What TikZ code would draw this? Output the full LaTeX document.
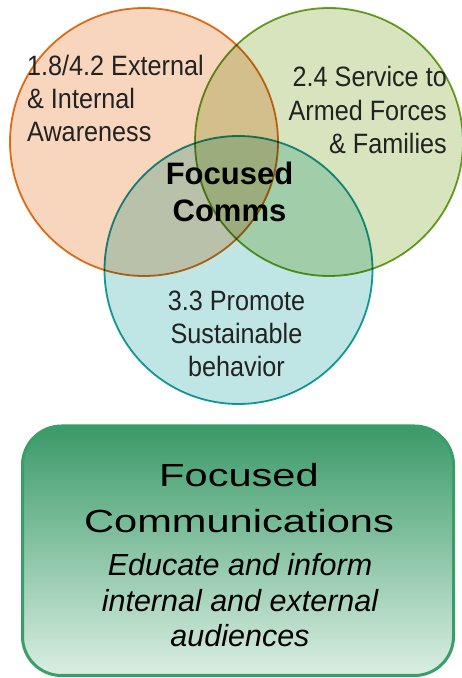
\documentclass[tikz,border=0pt]{standalone}
\usepackage{fontspec}
\setmainfont{Liberation Sans}
\newfontfamily\narrowfont[FakeStretch=0.9]{Liberation Sans}
\newfontfamily\widefont[FakeStretch=1.3]{Liberation Sans}
\definecolor{orfill}{HTML}{F8D6BE}
\definecolor{orline}{HTML}{E2761C}
\definecolor{grfill}{HTML}{D8E4BD}
\definecolor{grline}{HTML}{6CA325}
\definecolor{tefill}{HTML}{BFE6E5}
\definecolor{teline}{HTML}{189EA0}
\definecolor{boxline}{HTML}{3A9E68}
\definecolor{boxtop}{HTML}{3A9A68}
\definecolor{boxmid}{HTML}{9ACBAF}
\definecolor{boxbot}{HTML}{DAEEE2}
\definecolor{txtgray}{HTML}{222222}
\tikzset{
  venn/.style={circle, minimum size=268pt, inner sep=0pt, line width=1.8pt, blend mode=multiply},
  circtext/.style={inner sep=0pt, text=txtgray, font=\narrowfont\fontsize{28}{33.2}\selectfont},
}
\begin{document}
\begin{tikzpicture}[x=1pt,y=1pt]
\useasboundingbox (0,0) rectangle (462,678);
\fill[white] (0,0) rectangle (462,678);
\node[venn, draw=orline, fill=orfill] (left) at (144,536) {};
\node[venn, draw=grline, fill=grfill] (right) at (329,536) {};
\node[venn, draw=teline, fill=tefill] (bottom) at (238.5,408) {};
\node[circtext, anchor=base west, align=left] (ltext) at (27,536) {1.8/4.2 External\\\& Internal\\Awareness};
\node[circtext, anchor=base east, align=right] (rtext) at (447,524.7) {2.4 Service to\\Armed Forces\\\& Families};
\node[circtext, anchor=base, align=center] (btext) at (236.5,301.3) {3.3 Promote\\Sustainable\\behavior};
\node[inner sep=0pt, anchor=base, align=center, font=\bfseries\fontsize{31}{37}\selectfont] (center) at (229.5,456) {Focused\\Comms};
\node[draw=boxline, line width=3pt, rounded corners=39pt, minimum width=431pt, minimum height=249.5pt, top color=boxtop, middle color=boxmid, bottom color=boxbot] (box) at (238,127.25) {};
\node[inner sep=0pt, anchor=base, align=center, font=\widefont\fontsize{32}{46}\selectfont] (title) at (239,145) {Focused\\Communications};
\node[inner sep=0pt, anchor=base, align=center, font=\itshape\fontsize{30.5}{35.5}\selectfont] (sub) at (240,31.3) {Educate and inform\\internal and external\\audiences};
\end{tikzpicture}
\end{document}
